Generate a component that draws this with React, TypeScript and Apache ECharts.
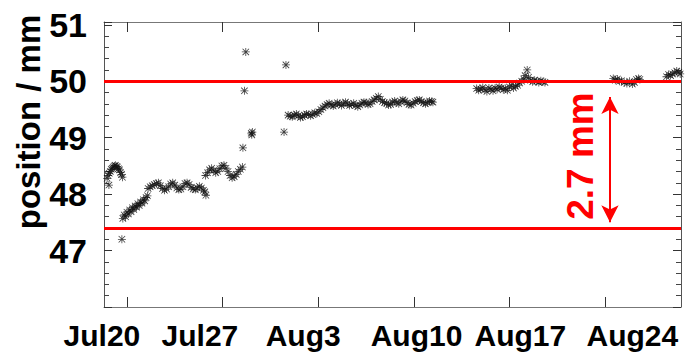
import React, { useEffect, useRef } from 'react';
import * as echarts from 'echarts';

// Big date captions under the chart
const dateLabels = ['Jul20', 'Jul27', 'Aug3', 'Aug10', 'Aug17', 'Aug24'];
// Y tick labels that are printed
const yTickLabels = [47, 48, 49, 50, 51];
// Weekly tick positions on the time axis (days from first tick)
const weekTicks = [0, 7, 14, 21, 28, 35];
const limitUpper = 50;
const limitLower = 47.4;
const spanText = '2.7 mm';
const arrowDay = 35.36;
const arrowTop = 49.72;
const arrowBottom = 47.5;

// Measured positions [day, mm]
const seg1 = [
  [-1.45, 48.28], [-1.38, 48.33], [-1.3, 48.37], [-1.22, 48.4], [-1.15, 48.44], [-1.07, 48.46],
  [-1.0, 48.48], [-0.92, 48.5], [-0.85, 48.51], [-0.77, 48.49], [-0.7, 48.48], [-0.62, 48.45],
  [-0.55, 48.43], [-0.47, 48.38], [-0.4, 48.35], [-0.33, 48.3],
];
const seg2 = [
  [-0.3, 47.57], [-0.2, 47.63], [-0.1, 47.6], [0.0, 47.68], [0.1, 47.65], [0.2, 47.72],
  [0.3, 47.69], [0.4, 47.76], [0.5, 47.73], [0.6, 47.79], [0.7, 47.77], [0.8, 47.83],
  [0.9, 47.8], [1.0, 47.86], [1.1, 47.84], [1.2, 47.9], [1.3, 47.88], [1.4, 47.94], [1.5, 47.97],
];
const seg3 = [
  [1.55, 48.1], [1.7, 48.13], [1.85, 48.15], [2.0, 48.17], [2.15, 48.19], [2.3, 48.2],
  [2.45, 48.15], [2.6, 48.1], [2.75, 48.07], [2.9, 48.09], [3.05, 48.13], [3.2, 48.18],
  [3.35, 48.2], [3.5, 48.16], [3.65, 48.11], [3.8, 48.08], [3.95, 48.09], [4.1, 48.13],
  [4.25, 48.19], [4.4, 48.2], [4.55, 48.17], [4.7, 48.12], [4.85, 48.09], [5.0, 48.08],
  [5.15, 48.11], [5.3, 48.14], [5.45, 48.11], [5.6, 48.07], [5.7, 48.04],
];
const seg4 = [
  [5.75, 48.33], [5.9, 48.38], [6.05, 48.43], [6.2, 48.46], [6.35, 48.42], [6.5, 48.38],
  [6.65, 48.4], [6.8, 48.45], [6.95, 48.5], [7.1, 48.51], [7.25, 48.46], [7.4, 48.4],
  [7.55, 48.33], [7.7, 48.29], [7.85, 48.31], [8.0, 48.35], [8.15, 48.4], [8.3, 48.44], [8.45, 48.48],
];
const seg5 = [
  [11.8, 49.4], [11.95, 49.38], [12.1, 49.37], [12.25, 49.4], [12.4, 49.42], [12.55, 49.39],
  [12.7, 49.36], [12.85, 49.37], [13.0, 49.4], [13.15, 49.42], [13.3, 49.41], [13.45, 49.39],
  [13.6, 49.41], [13.75, 49.44], [13.9, 49.43], [14.05, 49.46], [14.2, 49.5], [14.35, 49.53],
  [14.5, 49.56], [14.65, 49.59], [14.8, 49.61], [14.95, 49.58], [15.1, 49.56], [15.25, 49.59],
  [15.4, 49.62], [15.55, 49.6], [15.7, 49.57], [15.85, 49.6], [16.0, 49.63], [16.15, 49.6],
  [16.3, 49.57], [16.45, 49.59], [16.6, 49.61], [16.75, 49.57], [16.9, 49.55], [17.05, 49.58],
  [17.2, 49.61], [17.35, 49.63], [17.5, 49.62], [17.65, 49.59], [17.8, 49.6], [17.95, 49.64],
  [18.1, 49.67], [18.25, 49.7], [18.4, 49.73], [18.55, 49.68], [18.7, 49.64], [18.85, 49.62],
  [19.0, 49.61], [19.15, 49.58], [19.3, 49.59], [19.45, 49.63], [19.6, 49.65], [19.75, 49.62],
  [19.9, 49.6], [20.05, 49.64], [20.2, 49.67], [20.35, 49.65], [20.5, 49.62], [20.65, 49.59],
  [20.8, 49.58], [20.95, 49.61], [21.1, 49.64], [21.25, 49.66], [21.4, 49.67], [21.55, 49.64],
  [21.7, 49.62], [21.85, 49.6], [22.0, 49.62], [22.15, 49.65], [22.3, 49.64], [22.4, 49.63],
];
const seg6 = [
  [25.6, 49.87], [25.75, 49.84], [25.9, 49.86], [26.05, 49.89], [26.2, 49.85], [26.35, 49.82],
  [26.5, 49.88], [26.65, 49.86], [26.8, 49.83], [26.95, 49.88], [27.1, 49.86], [27.25, 49.9],
  [27.4, 49.88], [27.55, 49.85], [27.7, 49.87], [27.85, 49.84], [28.0, 49.9], [28.15, 49.93],
  [28.3, 49.88], [28.45, 49.91], [28.6, 49.93], [28.75, 49.97], [28.9, 50.0], [29.05, 50.04],
  [29.15, 50.1], [29.3, 50.2], [29.4, 50.07], [29.55, 50.02], [29.7, 49.99], [29.85, 50.02],
  [30.0, 50.0], [30.15, 49.98], [30.3, 50.01], [30.45, 49.99], [30.6, 49.98],
];
const seg7 = [
  [35.6, 50.05], [35.75, 50.02], [35.9, 50.04], [36.05, 50.0], [36.2, 50.01], [36.4, 49.98],
  [36.6, 49.96], [36.8, 50.0], [37.0, 49.95], [37.15, 49.98], [37.3, 50.03], [37.45, 50.05], [37.55, 50.03],
];
const seg8 = [
  [39.5, 50.08], [39.65, 50.12], [39.8, 50.1], [39.95, 50.13], [40.1, 50.15], [40.25, 50.18],
  [40.4, 50.16], [40.5, 50.13],
];
const outliers = [
  [-1.32, 48.16], [-0.37, 47.2], [5.78, 47.98], [8.49, 48.82], [8.6, 49.83], [8.7, 50.52],
  [9.1, 49.08], [9.18, 49.1], [9.14, 49.05], [11.5, 49.1], [11.64, 50.29],
];

const asterisk =
  'path://M4.5 0h1v10h-1z M0 4.5h10v1h-10z M1.3 0.6L9.4 8.7 8.7 9.4 0.6 1.3z M8.7 0.6L9.4 1.3 1.3 9.4 0.6 8.7z';

const FONT = 'Liberation Sans, Arial, sans-serif';
// where the big captions sit along the time axis (layout)
const captionAnchors = [-1.83, 5.34, 12.9, 21.2, 28.8, 37.0];

export default function App() {
  const ref = useRef<HTMLDivElement>(null);
  useEffect(() => {
    if (!ref.current) return;
    const chart = echarts.init(ref.current, undefined, { renderer: 'svg' });
    const data = [...seg1, ...seg2, ...seg3, ...seg4, ...seg5, ...seg6, ...seg7, ...seg8, ...outliers];
    const W = 685;
    const gridLeft = 104;
    const gridRight = 4;
    const xMin = -1.68;
    const xMax = 40.56;
    const pxPerDay = (W - gridLeft - gridRight) / (xMax - xMin);
    const capMin = xMin - gridLeft / pxPerDay;
    const capMax = xMax + gridRight / pxPerDay;
    const yMin = 46;
    const yMax = 51.05;
    const timeAxisBase = {
      type: 'value',
      gridIndex: 0,
      min: xMin,
      max: xMax,
      axisLine: { show: true, onZero: false, lineStyle: { color: '#777', width: 1 } },
      axisTick: {
        show: true,
        inside: true,
        length: 10,
        customValues: weekTicks,
        lineStyle: { color: '#333', width: 1 },
      },
      axisLabel: { show: false },
      splitLine: { show: false },
    };
    const posAxisBase = {
      type: 'value',
      gridIndex: 0,
      min: yMin,
      max: yMax,
      interval: 1,
      axisLine: { show: true, onZero: false, lineStyle: { color: '#555', width: 1 } },
      axisTick: { show: true, inside: true, length: 8, lineStyle: { color: '#333', width: 1 } },
      minorTick: { show: true, splitNumber: 5, length: 5, lineStyle: { color: '#444', width: 1 } },
      splitLine: { show: false },
      minorSplitLine: { show: false },
    };
    chart.setOption({
      animation: false,
      backgroundColor: '#fff',
      grid: [
        { left: gridLeft, right: gridRight, top: 22, bottom: 50, containLabel: false },
        { left: 0, right: 0, top: 22, bottom: 50, containLabel: false },
      ],
      xAxis: [
        { ...timeAxisBase, position: 'bottom' },
        { ...timeAxisBase, position: 'top' },
        {
          type: 'value',
          gridIndex: 1,
          position: 'bottom',
          min: capMin,
          max: capMax,
          axisLine: { show: false, onZero: false },
          axisTick: { show: false },
          splitLine: { show: false },
          axisLabel: {
            show: true,
            customValues: captionAnchors,
            margin: 13,
            fontSize: 30,
            fontWeight: 'bold',
            fontFamily: FONT,
            color: '#000',
            formatter: (v: number) => {
              let best = 0;
              captionAnchors.forEach((a, i) => {
                if (Math.abs(a - v) < Math.abs(captionAnchors[best] - v)) best = i;
              });
              return dateLabels[best];
            },
          },
        },
      ],
      yAxis: [
        {
          ...posAxisBase,
          position: 'left',
          axisLabel: {
            show: true,
            margin: 17,
            fontSize: 34,
            fontWeight: 'bold',
            fontFamily: FONT,
            color: '#000',
            formatter: (v: number) => (yTickLabels.includes(Math.round(v * 1000) / 1000) ? String(v) : ''),
          },
        },
        { ...posAxisBase, position: 'right', axisLabel: { show: false } },
        { type: 'value', gridIndex: 1, show: false },
      ],
      series: [
        {
          type: 'scatter',
          xAxisIndex: 0,
          yAxisIndex: 0,
          data,
          symbol: asterisk,
          symbolSize: 8,
          itemStyle: { color: '#111' },
          silent: true,
          markLine: {
            silent: true,
            symbol: 'none',
            animation: false,
            label: { show: false },
            data: [
              { yAxis: limitUpper, lineStyle: { color: '#ff0000', width: 3, type: 'solid' } },
              { yAxis: limitLower, lineStyle: { color: '#ff0000', width: 3, type: 'solid' } },
              [
                { coord: [arrowDay, arrowTop], symbol: 'arrow', symbolSize: [13, 17] },
                {
                  coord: [arrowDay, arrowBottom],
                  symbol: 'arrow',
                  symbolSize: [13, 17],
                  lineStyle: { color: '#ff0000', width: 2, type: 'solid' },
                },
              ],
            ],
            lineStyle: { color: '#ff0000', width: 2, type: 'solid' },
            itemStyle: { color: '#ff0000' },
          },
        },
      ],
      graphic: [
        {
          type: 'text',
          x: 28,
          y: 122,
          rotation: Math.PI / 2,
          style: {
            text: 'position / mm',
            fontSize: 33,
            fontWeight: 'bold',
            fontFamily: FONT,
            fill: '#000',
            align: 'center',
            verticalAlign: 'middle',
          },
        },
        {
          type: 'text',
          x: 580,
          y: 156,
          rotation: Math.PI / 2,
          style: {
            text: spanText,
            fontSize: 37,
            fontWeight: 'bold',
            fontFamily: FONT,
            fill: '#ff0000',
            align: 'center',
            verticalAlign: 'middle',
          },
        },
      ],
    });
    return () => chart.dispose();
  }, []);
  return <div ref={ref} style={{ width: 685, height: 357, position: 'absolute', left: 0, top: 0 }} />;
}
